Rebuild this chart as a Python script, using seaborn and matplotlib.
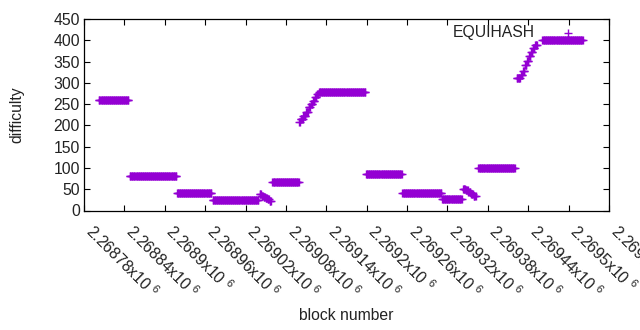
import numpy as np
import pandas as pd
import matplotlib
matplotlib.use("Agg")
import matplotlib.pyplot as plt
import seaborn as sns

# runs of consecutive blocks with a constant difficulty
run_start = [2268802, 2268848, 2268918, 2268971,
             2269041, 2269044, 2269047, 2269050, 2269053, 2269056,
             2269060,
             2269100, 2269102, 2269106, 2269110, 2269114, 2269117, 2269120, 2269123, 2269126,
             2269129, 2269199, 2269253, 2269312,
             2269343, 2269347, 2269351, 2269355, 2269359,
             2269366,
             2269423, 2269429, 2269432, 2269435, 2269438, 2269441, 2269444, 2269447, 2269450,
             2269461]
run_end = [2268846, 2268917, 2268969, 2269039,
           2269043, 2269046, 2269049, 2269052, 2269055, 2269058,
           2269099,
           2269101, 2269105, 2269109, 2269113, 2269116, 2269119, 2269122, 2269125, 2269128,
           2269198, 2269252, 2269311, 2269341,
           2269346, 2269350, 2269354, 2269358, 2269362,
           2269420,
           2269428, 2269431, 2269434, 2269437, 2269440, 2269443, 2269446, 2269449, 2269453,
           2269521]
run_value = [259, 82, 40, 25,
             38, 35, 32, 29, 26, 23,
             68,
             208, 216, 223, 232, 243, 251, 258, 266, 274,
             278, 86, 42, 28,
             50, 47, 43, 39, 35,
             101,
             311, 318, 328, 341, 352, 362, 372, 382, 390,
             400]

x_ticks = [2268780, 2268840, 2268900, 2268960, 2269020, 2269080, 2269140,
           2269200, 2269260, 2269320, 2269380, 2269440, 2269500, 2269560]
x_tick_labels = ["2.26878", "2.26884", "2.2689", "2.26896", "2.26902", "2.26908", "2.26914",
                 "2.2692", "2.26926", "2.26932", "2.26938", "2.26944", "2.2695", "2.26956"]
y_ticks = [0, 50, 100, 150, 200, 250, 300, 350, 400, 450]

blocks, diffs = [], []
for s, e, v in zip(run_start, run_end, run_value):
    for b in range(s, e + 1):
        blocks.append(b)
        diffs.append(v)
df = pd.DataFrame({"block": blocks, "difficulty": diffs})

sns.set_style("ticks")
plt.rcParams["font.family"] = ["Liberation Sans", "DejaVu Sans"]
plt.rcParams["mathtext.fontset"] = "custom"
plt.rcParams["mathtext.rm"] = "Liberation Sans"
plt.rcParams["mathtext.it"] = "Liberation Sans"

FS = 11.3
TXT = "#222222"
fig = plt.figure(figsize=(6.4, 3.3), dpi=100)
fig.patch.set_facecolor("white")
ax = fig.add_axes([84 / 640, 1 - 210.5 / 330, 525 / 640, 191.5 / 330])

sns.scatterplot(data=df, x="block", y="difficulty", marker="+", s=30,
                color="#9400D3", linewidth=1.0, ax=ax, label="EQUIHASH")

ax.set_xlim(2268780, 2269560)
ax.set_ylim(0, 450)
ax.set_xticks(x_ticks)
ax.set_xticklabels([l + "x10 $^{6}$" for l in x_tick_labels], rotation=-45,
                   ha="left", va="baseline", rotation_mode="anchor", fontsize=FS)
ax.set_yticks(y_ticks)
ax.set_yticklabels([str(v) for v in y_ticks], fontsize=FS)
ax.tick_params(axis="both", direction="in", length=4, width=0.8, color="black",
               top=True, right=True, labelcolor=TXT)
ax.tick_params(axis="x", pad=16)
ax.tick_params(axis="y", pad=3)
for sp in ax.spines.values():
    sp.set_visible(True)
    sp.set_linewidth(0.9)
    sp.set_color("black")

ax.set_xlabel("block number", fontsize=FS, color=TXT)
ax.set_ylabel("difficulty", fontsize=FS, color=TXT)
ax.xaxis.set_label_coords(0.5, -0.51)
ax.yaxis.set_label_coords(-0.113, 0.5)

leg = ax.legend(loc="upper right", markerfirst=False, frameon=False,
                bbox_to_anchor=(0.952, 0.969), borderaxespad=0, borderpad=0,
                handlelength=2, handletextpad=1.11, fontsize=FS)
for t in leg.get_texts():
    t.set_color(TXT)

fig.savefig("out.png", dpi=100, facecolor="white")
